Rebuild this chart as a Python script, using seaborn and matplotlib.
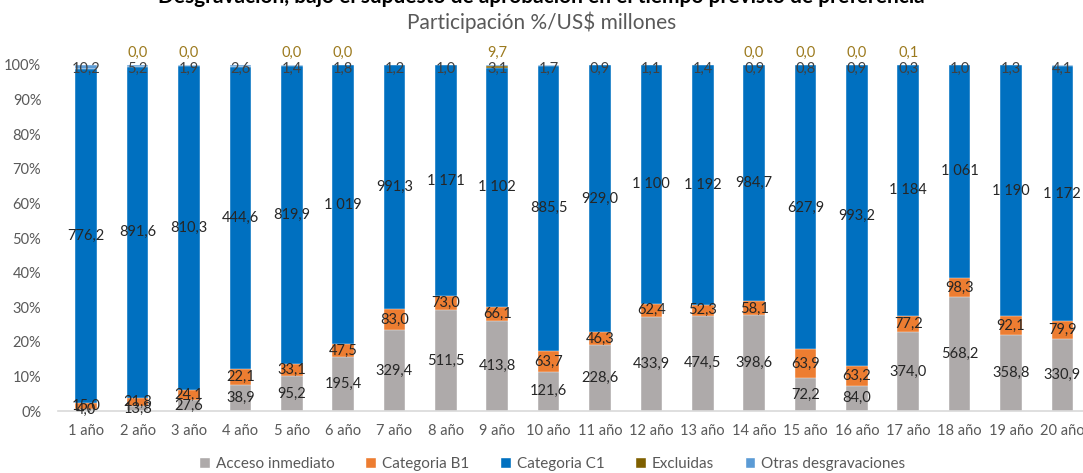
import numpy as np
import pandas as pd
import matplotlib
matplotlib.use('Agg')
import matplotlib.pyplot as plt
import seaborn as sns
from matplotlib.patches import Patch

# data (US$ millones)
years = [f'{i} año' for i in range(1, 21)]
acceso = [4.0, 13.8, 27.6, 38.9, 95.2, 195.4, 329.4, 511.5, 413.8, 121.6,
          228.6, 433.9, 474.5, 398.6, 72.2, 84.0, 374.0, 568.2, 358.8, 330.9]
cat_b1 = [15.0, 21.8, 24.1, 22.1, 33.1, 47.5, 83.0, 73.0, 66.1, 63.7,
          46.3, 62.4, 52.3, 58.1, 63.9, 63.2, 77.2, 98.3, 92.1, 79.9]
cat_c1 = [776.2, 891.6, 810.3, 444.6, 819.9, 1019, 991.3, 1171, 1102, 885.5,
          929.0, 1100, 1192, 984.7, 627.9, 993.2, 1184, 1061, 1190, 1172]
excluidas = [np.nan, 0.0, 0.0, np.nan, 0.0, 0.0, np.nan, np.nan, 9.7, np.nan,
             np.nan, np.nan, np.nan, 0.0, 0.0, 0.0, 0.1, np.nan, np.nan, np.nan]
otras = [10.2, 5.2, 1.9, 2.6, 1.4, 1.8, 1.2, 1.0, 3.1, 1.7,
         0.9, 1.1, 1.4, 0.9, 0.8, 0.9, 0.3, 1.0, 1.3, 4.1]

series = ['Acceso inmediato', 'Categoria B1', 'Categoria C1', 'Excluidas', 'Otras desgravaciones']
colors = ['#AEAAAA', '#ED7D31', '#0070C0', '#7F6000', '#5B9BD5']

df = pd.DataFrame({'year': years, 'Acceso inmediato': acceso, 'Categoria B1': cat_b1,
                   'Categoria C1': cat_c1, 'Excluidas': excluidas,
                   'Otras desgravaciones': otras})
vals = df[series].fillna(0)
share = vals.div(vals.sum(axis=1), axis=0)
cum = share.cumsum(axis=1)

sns.set_style('white')
plt.rcParams['font.family'] = ['Lato', 'DejaVu Sans']

fig = plt.figure(figsize=(10.83, 4.73), dpi=100)
ax = fig.add_axes([58 / 1083, 62 / 473, 1030 / 1083, 346 / 473])

# stacked bars: draw cumulative tops from the last series down
for s, c in reversed(list(zip(series, colors))):
    tmp = pd.DataFrame({'year': years, 'top': cum[s].values})
    sns.barplot(data=tmp, x='year', y='top', order=years, color=c, width=0.42,
                saturation=1, ax=ax, edgecolor='white', linewidth=0.3)


def fmt(v):
    if v >= 1000:
        return f'{int(round(v)):,}'.replace(',', ' ')
    return f'{v:.1f}'.replace('.', ',')


for i in range(len(years)):
    for j, s in enumerate(series):
        v = df[s].iloc[i]
        if pd.isna(v):
            continue
        top = cum[s].iloc[i]
        mid = top - share[s].iloc[i] / 2
        if s == 'Excluidas':
            ax.text(i, 1.035, fmt(v), ha='center', va='center', fontsize=10.5,
                    color='#9C7A1E', clip_on=False)
        elif s == 'Otras desgravaciones':
            ax.text(i, min(mid, 0.99), fmt(v), ha='center', va='center', fontsize=10.5,
                    color='#404040', clip_on=False)
        else:
            ax.text(i, mid, fmt(v), ha='center', va='center', fontsize=10.5,
                    color='#262626')

ax.set_xlim(-0.55, 19.5)
ax.set_ylim(0, 1)
ax.set_yticks(np.arange(0, 1.01, 0.1))
ax.set_yticklabels([f'{int(t * 100)}%' for t in np.arange(0, 1.01, 0.1)])
ax.tick_params(axis='both', length=0, labelsize=10.5, colors='#595959')
ax.tick_params(axis='x', pad=9)
ax.tick_params(axis='y', pad=12)
ax.set_xlabel('')
ax.set_ylabel('')
for side in ['top', 'right', 'left']:
    ax.spines[side].set_visible(False)
ax.spines['bottom'].set_color('#D9D9D9')
ax.spines['bottom'].set_linewidth(1.2)

# main title sits mostly above the picture edge, as in the reference
fig.text(0.5, 1 - 3 / 473, 'Desgravación, bajo el supuesto de aprobación en el tiempo previsto de preferencia',
         ha='center', va='baseline', fontsize=15, fontweight='bold', color='black')
fig.text(0.5, 1 - 22 / 473, 'Participación %/US$ millones', ha='center', va='center',
         fontsize=15, color='#595959')

handles = [Patch(facecolor=c, label=s) for s, c in zip(series, colors)]
leg = fig.legend(handles=handles, loc='lower center', bbox_to_anchor=(0.51, -0.025), ncol=5,
                 frameon=False, fontsize=11, handlelength=0.7, handleheight=0.7,
                 handletextpad=0.4, columnspacing=2.0)
for t in leg.get_texts():
    t.set_color('#595959')

fig.savefig('out.png', dpi=100)
